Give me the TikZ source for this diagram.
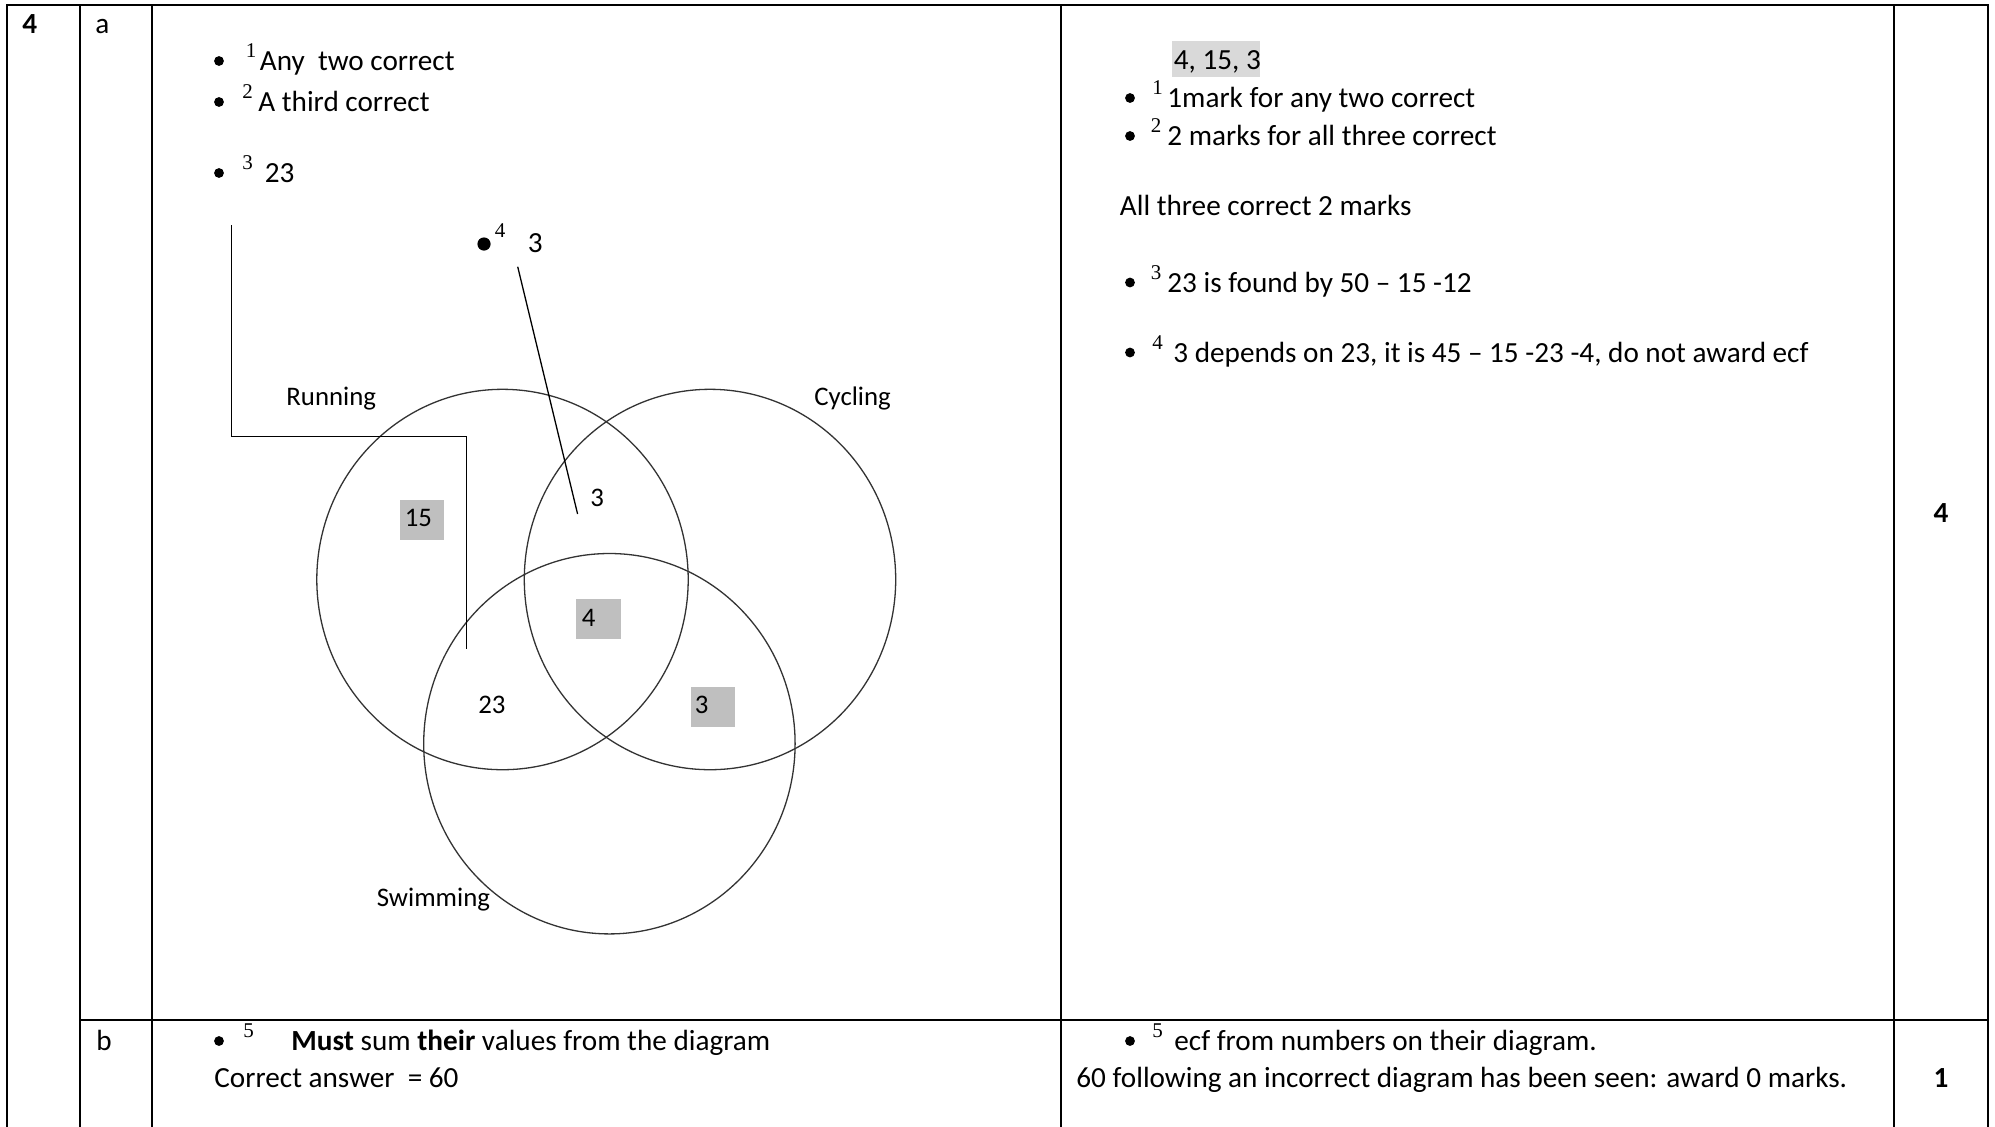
\documentclass[tikz,border=0pt]{standalone}
\usepackage{fontspec}
\setmainfont{Carlito}
\newfontfamily\supfont{Liberation Serif}
\begin{document}
\begin{tikzpicture}[x=0.5pt,y=-0.5pt,
  txt/.style={anchor=base west, inner sep=0, font=\fontsize{14.6}{17}\selectfont},
  ctxt/.style={anchor=base, inner sep=0, font=\fontsize{14.6}{17}\selectfont\bfseries},
  supt/.style={anchor=base west, inner sep=0, font=\supfont\fontsize{10.5}{11}\selectfont},
  vtxt/.style={anchor=base west, inner sep=0, font=\fontsize{13.4}{15}\selectfont},
  bul/.style={circle, fill=black, draw=none, inner sep=0, minimum size=4.9pt},
  bigbul/.style={circle, fill=black, draw=none, inner sep=0, minimum size=6.6pt},
  rulel/.style={line width=0.85pt, line cap=rect},
  pointer/.style={line width=0.65pt},
  venn/.style={draw=black!80, line width=0.65pt},
  hl/.style={fill=black!15},
  numbox/.style={fill=black!25}]
\useasboundingbox (0,0) rectangle (1995,1126);
\fill[white] (0,0) rectangle (1995,1126);

% ---- table rules
\draw[rulel] (7,1126) -- (7,5) -- (1988,5) -- (1988,1126);
\foreach \cx in {80,152,1061,1894} \draw[rulel] (\cx,5) -- (\cx,1126);
\draw[rulel] (80,1020) -- (1988,1020);

% ---- column 1/2 labels
\node[txt, font=\fontsize{14.6}{17}\selectfont\bfseries] (qn) at (22,33.5) {4};
\node[txt] (pa) at (95,33.5) {a};
\node[txt] (pb) at (96,1050) {b};

% ---- part a, left column
\node[bul] (b1) at (219,61) {};
\node[supt] (s1) at (245.5,57.5) {1};
\node[txt] (t1) at (259.5,70.5) {Any\ \ two correct};
\node[bul] (b2) at (219,102) {};
\node[supt] (s2) at (242,98.5) {2};
\node[txt] (t2) at (258,111.5) {A third correct};
\node[bul] (b3) at (219,173) {};
\node[supt] (s3) at (242,169.5) {3};
\node[txt] (t3) at (264.5,182.5) {23};
\node[bigbul] (b4) at (484,244) {};
\node[supt] (s4) at (494.5,237.5) {4};
\node[txt] (t4) at (527.5,252.5) {3};

% ---- Venn diagram
\draw[venn] (502.5,579.5) ellipse [x radius=92.85pt, y radius=95.1pt];
\draw[venn] (710,579.5) ellipse [x radius=92.85pt, y radius=95.1pt];
\draw[venn] (609.4,743.7) ellipse [x radius=92.85pt, y radius=95.1pt];
\node[vtxt] (run) at (286,405.5) {Running};
\node[vtxt] (cyc) at (814,405.5) {Cycling};
\node[vtxt] (swi) at (376.5,906.5) {Swimming};
\fill[numbox] (399.5,500) rectangle (444,539.5);
\node[vtxt] (n15) at (404.5,526.5) {15};
\node[vtxt] (n3a) at (590,506) {3};
\fill[numbox] (576.4,599.3) rectangle (621,638.7);
\node[vtxt] (n4) at (581.5,626.5) {4};
\node[vtxt] (n23) at (478,713.5) {23};
\fill[numbox] (691,687) rectangle (735.4,726.5);
\node[vtxt] (n3b) at (694.5,713.5) {3};

% ---- pointer lines
\coordinate (br0) at (231.7,225);
\coordinate (br1) at (231.7,436.7);
\coordinate (br2) at (466.7,436.7);
\coordinate (br3) at (466.7,649);
\draw[pointer] (br0) -- (br1) -- (br2) -- (br3);
\coordinate (sl0) at (517.7,266.7);
\coordinate (sl1) at (577.6,514);
\draw[pointer] (sl0) -- (sl1);

% ---- part a, right column
\fill[hl] (1172,41) rectangle (1260,77);
\node[txt] (ans) at (1173.5,69.5) {4, 15, 3};
\node[bul] (r1) at (1130,98) {};
\node[supt] (rs1) at (1152,94.5) {1};
\node[txt] (rt1) at (1167,107.5) {1mark for any two correct};
\node[bul] (r2) at (1130,136) {};
\node[supt] (rs2) at (1150.5,132.5) {2};
\node[txt] (rt2) at (1167,145.5) {2 marks for all three correct};
\node[txt] (rt0) at (1119.5,215.5) {All three correct 2 marks};
\node[bul] (r3) at (1130,282.5) {};
\node[supt] (rs3) at (1150.5,279) {3};
\node[txt] (rt3) at (1167,292) {23 is found by 50 – 15 -12};
\node[bul] (r4) at (1130,352.5) {};
\node[supt] (rs4) at (1152,349) {4};
\node[txt] (rt4) at (1173,362) {3 depends on 23, it is 45 – 15 -23 -4, do not award ecf};
\node[ctxt] (ma) at (1941,522) {4};

% ---- part b
\node[bul] (bb1) at (219,1041) {};
\node[supt] (bs1) at (243,1037.5) {5};
\node[txt] (bt1) at (291,1050.5) {\textbf{Must} sum \textbf{their} values from the diagram};
\node[txt] (bt2) at (214,1087.5) {Correct answer\ \ = 60};
\node[bul] (rb1) at (1130,1041) {};
\node[supt] (rbs1) at (1152,1037.5) {5};
\node[txt] (rbt1) at (1174,1050.5) {ecf from numbers on their diagram.};
\node[txt] (rbt2) at (1076,1087.5) {60 following an incorrect diagram has been seen: award 0 marks.};
\node[ctxt] (mb) at (1941,1087.5) {1};
\end{tikzpicture}
\end{document}
